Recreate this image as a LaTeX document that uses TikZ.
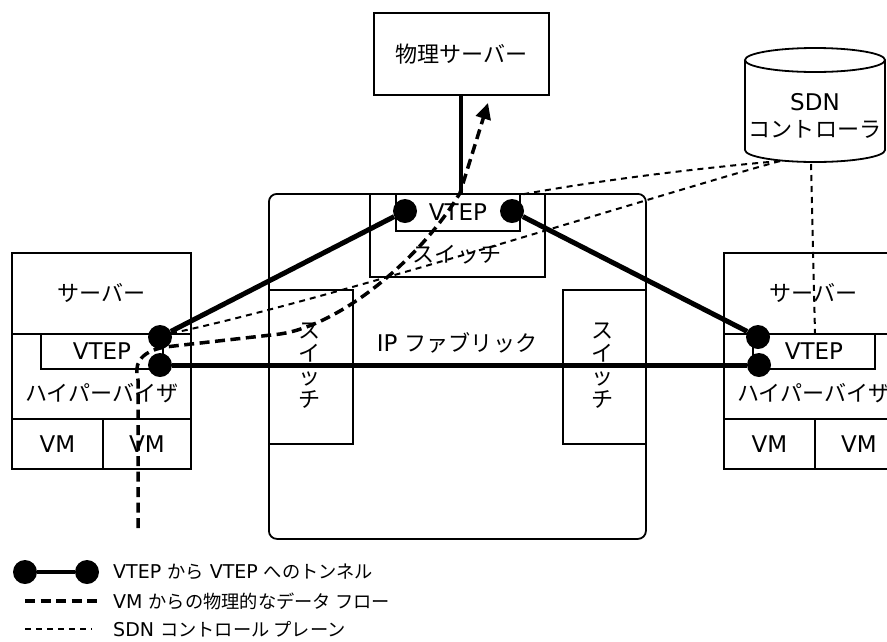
\documentclass[tikz,border=0pt]{standalone}
\usepackage{fontspec}
\setmainfont{DejaVu Sans}
\newfontfamily\jpfont[Scale=0.96]{Noto Sans CJK JP}
\newcommand{\jtxt}[1]{{\jpfont #1}}
\usetikzlibrary{arrows.meta}
\begin{document}
\begin{tikzpicture}[x=1pt,y=-1pt,
  box/.style={draw=black, line width=1.8pt, inner sep=0pt, anchor=north west, font=\fontsize{23}{26}\selectfont},
  lbl/.style={inner sep=0pt, font=\fontsize{23}{26}\selectfont},
  lgd/.style={inner sep=0pt, anchor=west, font=\fontsize{19}{22}\selectfont},
  tunnel/.style={line width=5pt},
  vtepdot/.style={circle, fill=black, minimum size=24pt, inner sep=0pt},
  dataflow/.style={line width=3.5pt, dash pattern=on 10pt off 5.5pt},
  ctrl/.style={line width=2pt, dash pattern=on 6pt off 5pt},
]
\useasboundingbox (0,0) rectangle (887,641);
\clip (0,0) rectangle (887,641);

% physical server
\node[box, minimum width=175pt, minimum height=82pt] (phys) at (373,12) {\jtxt{物理サーバー}};

% IP fabric
\node[box, rounded corners=8pt, minimum width=377pt, minimum height=345pt] (fabric) at (268,193) {};
\node[lbl] (fablbl) at (457,343) {IP \jtxt{ファブリック}};

% top switch
\node[box, minimum width=175pt, minimum height=83pt] (swT) at (369,193) {};
\node[lbl] (swTlbl) at (457,255) {\jtxt{スイッチ}};
\node[box, minimum width=124pt, minimum height=37pt] (vtepT) at (395,193) {VTEP};

% side switches
\node[box, minimum width=84pt, minimum height=154pt] (swL) at (268,289) {};
\node[lbl, align=center, font=\fontsize{23}{23}\selectfont] (swLlbl) at (310,366) {\jtxt{ス}\\\jtxt{イ}\\\jtxt{ッ}\\\jtxt{チ}};
\node[box, minimum width=83pt, minimum height=154pt] (swR) at (562,289) {};
\node[lbl, align=center, font=\fontsize{23}{23}\selectfont] (swRlbl) at (603,366) {\jtxt{ス}\\\jtxt{イ}\\\jtxt{ッ}\\\jtxt{チ}};

% left server
\node[box, minimum width=179pt, minimum height=81pt] (srvL) at (11,252) {\jtxt{サーバー}};
\node[box, minimum width=179pt, minimum height=85pt] (hypL) at (11,333) {};
\node[lbl] (hypLlbl) at (102,393) {\jtxt{ハイパーバイザ}};
\node[box, minimum width=122pt, minimum height=35pt] (vtepL) at (40,333) {VTEP};
\node[box, minimum width=91pt, minimum height=50pt] (vmL1) at (11,418) {VM};
\node[box, minimum width=88pt, minimum height=50pt] (vmL2) at (102,418) {VM};

% right server (cut by the picture's right edge, as in the reference)
\node[box, minimum width=179pt, minimum height=81pt] (srvR) at (723,252) {\jtxt{サーバー}};
\node[box, minimum width=179pt, minimum height=85pt] (hypR) at (723,333) {};
\node[lbl] (hypRlbl) at (814,393) {\jtxt{ハイパーバイザ}};
\node[box, minimum width=122pt, minimum height=35pt] (vtepR) at (752,333) {VTEP};
\node[box, minimum width=91pt, minimum height=50pt] (vmR1) at (723,418) {VM};
\node[box, minimum width=88pt, minimum height=50pt] (vmR2) at (814,418) {VM};

% SDN controller (cylinder)
\draw[line width=1.8pt, fill=white] (745,60) -- (745,150) arc[start angle=180, end angle=360, x radius=70pt, y radius=12pt] -- (885,60);
\draw[line width=1.8pt] (815,60) ellipse [x radius=70pt, y radius=12pt];
\node[lbl, align=center, font=\fontsize{23}{27}\selectfont] (sdn) at (815,116) {SDN\\\jtxt{コントローラ}};
\coordinate (sdnb) at (780,161);
\coordinate (sdnv) at (811,164);

% physical server link
\coordinate (physlink) at (461,193);
\draw[line width=3.5pt] (phys.south -| physlink) -- (physlink);

% SDN control plane
\draw[ctrl] (sdnb) .. controls (700,168) and (600,180) .. (519,195);
\draw[ctrl] (sdnb) .. controls (640,200) and (330,300) .. (168,334);
\draw[ctrl] (sdnv) -- (815,333);

% data flow
\coordinate (dfstart) at (138,528);
\coordinate (dfend) at (488,103);
\draw[dataflow, -{Triangle[length=16pt,width=15pt]}] (dfstart) -- (138,380)
  .. controls (134,366) and (138,352) .. (165,347) -- (280,334)
  .. controls (340,325) and (420,260) .. (460,193) -- (dfend);

% tunnel endpoints
\node[vtepdot] (L1) at (160,337) {};
\node[vtepdot] (L2) at (160,365) {};
\node[vtepdot] (T1) at (405,211) {};
\node[vtepdot] (T2) at (512,211) {};
\node[vtepdot] (R1) at (758,337) {};
\node[vtepdot] (R2) at (759,365) {};
\draw[tunnel] (L1) -- (T1);
\draw[tunnel] (T2) -- (R1);
\draw[tunnel] (L2) -- (R2);

% legend
\node[vtepdot] (lg1a) at (25,572) {};
\node[vtepdot] (lg1b) at (87,572) {};
\draw[line width=4pt] (lg1a) -- (lg1b);
\node[lgd] (lg1t) at (113,572) {VTEP \jtxt{から} VTEP \jtxt{へのトンネル}};
\coordinate (lg2a) at (25,601);
\coordinate (lg2b) at (97,601);
\draw[dataflow] (lg2a) -- (lg2b);
\node[lgd] (lg2t) at (113,601) {VM \jtxt{からの物理的なデータ フロー}};
\coordinate (lg3a) at (25,629);
\coordinate (lg3b) at (92,629);
\draw[ctrl] (lg3a) -- (lg3b);
\node[lgd] (lg3t) at (113,629) {SDN \jtxt{コントロール プレーン}};
\end{tikzpicture}
\end{document}
